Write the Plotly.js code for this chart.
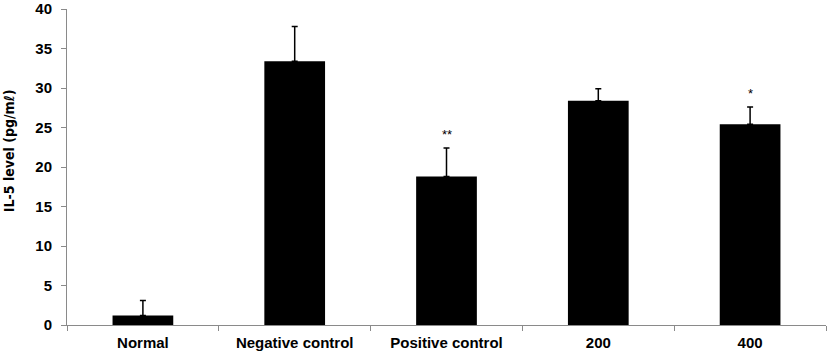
<!DOCTYPE html>
<html>
<head>
<meta charset="utf-8">
<script src="https://cdn.plot.ly/plotly-3.0.1.min.js"></script>
<style>html,body{margin:0;padding:0;background:#fff;}#chart{width:827px;height:354px;}</style>
</head>
<body>
<div id="chart"></div>
<script>
const categories = ["Normal", "Negative control", "Positive control", "200", "400"];
const values = [1.2, 33.4, 18.8, 28.4, 25.4];
const errors = [1.9, 4.4, 3.6, 1.5, 2.2];
const significance = ["", "", "**", "", "*"];
const yTicks = [0, 5, 10, 15, 20, 25, 30, 35, 40];
const yTitle = "IL-5 level (pg/mℓ)";

const barTrace = {
  type: "bar",
  x: categories,
  y: values,
  marker: {color: "#000000", line: {width: 0}},
  error_y: {type: "data", array: errors, symmetric: false, arrayminus: errors.map(() => 0),
            color: "#000000", thickness: 1.5, width: 3},
  hoverinfo: "none",
  showlegend: false
};

const annotations = categories.map((c, i) => ({
  x: i, y: values[i] + errors[i], text: significance[i],
  xref: "x", yref: "y", showarrow: false, yanchor: "bottom", yshift: 4,
  font: {family: "Liberation Sans, Arial, sans-serif", size: 13, color: "#000"}
})).filter(a => a.text);

annotations.push({
  xref: "paper", yref: "paper", x: 0, y: 0.55, xanchor: "center", yanchor: "middle",
  xshift: -58, textangle: -90, showarrow: false, text: yTitle,
  font: {size: 14, family: "DejaVu Sans Condensed, Liberation Sans Narrow, sans-serif", weight: "bold", color: "#000"}
});

const layout = {
  width: 827, height: 354,
  margin: {l: 67, r: 1, t: 9, b: 29},
  paper_bgcolor: "#fff", plot_bgcolor: "#fff",
  bargap: 0.6,
  font: {family: "Liberation Sans, Arial, sans-serif", color: "#000"},
  annotations: annotations,
  xaxis: {
    type: "category",
    showline: true, linecolor: "#8a8a8a", linewidth: 1,
    ticks: "outside", tickson: "boundaries", ticklen: 5, tickcolor: "#8a8a8a",
    ticklabelstandoff: 4,
    tickfont: {size: 15, family: "Liberation Sans, Arial, sans-serif", weight: "bold"},
    showgrid: false, zeroline: false
  },
  yaxis: {
    range: [0, 40],
    tickvals: yTicks,
    ticktext: yTicks.map(String),
    ticklabeloverflow: "allow",
    showline: true, linecolor: "#8a8a8a", linewidth: 1,
    ticks: "outside", ticklen: 5, tickcolor: "#8a8a8a",
    ticklabelstandoff: 6,
    tickfont: {size: 15, family: "Liberation Sans, Arial, sans-serif", weight: "bold"},
    showgrid: false, zeroline: false
  }
};

Plotly.newPlot("chart", [barTrace], layout, {displayModeBar: false, staticPlot: true});
</script>
</body>
</html>
